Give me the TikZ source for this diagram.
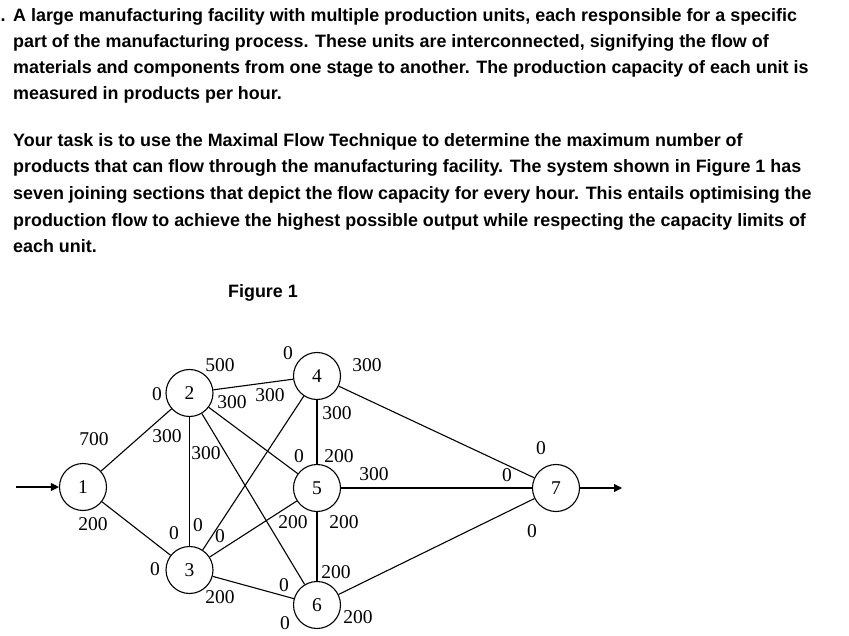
\documentclass[tikz,border=0pt]{standalone}
\usepackage{fontspec}
\setmainfont{Liberation Serif}
\newfontfamily\headfont{Liberation Sans}
\usetikzlibrary{arrows.meta,positioning}

\begin{document}
\begin{tikzpicture}[x=1pt, y=-1pt,
    unit/.style={draw, circle, line width=1.1pt, minimum size=47pt, inner sep=0pt,
                 font=\fontsize{19.5}{19.5}\selectfont},
    link/.style={line width=1.1pt},
    flow/.style={line width=1.1pt, -{Triangle[length=8pt, width=8pt]}},
    capnum/.style={inner sep=0pt, font=\fontsize{19.5}{19.5}\selectfont},
    para/.style={anchor=base west, inner sep=0pt, font=\headfont\bfseries\fontsize{17.9}{20}\selectfont}
]
\path[use as bounding box] (0,0) rectangle (849,636);

% --- task text ---
\node[para] (dot) at (0.5,22) {.};
\node[para] (p1a) at (13,22)    {A large manufacturing facility with multiple production units, each responsible for a specific};
\node[para] (p1b) at (13,48)    {part of the manufacturing process. These units are interconnected, signifying the flow of};
\node[para] (p1c) at (13,74)    {materials and components from one stage to another. The production capacity of each unit is};
\node[para] (p1d) at (13,99.5)  {measured in products per hour.};

\node[para] (p2a) at (13,147)   {Your task is to use the Maximal Flow Technique to determine the maximum number of};
\node[para] (p2b) at (13,173)   {products that can flow through the manufacturing facility. The system shown in Figure 1 has};
\node[para] (p2c) at (13,200)   {seven joining sections that depict the flow capacity for every hour. This entails optimising the};
\node[para] (p2d) at (13,226.5) {production flow to achieve the highest possible output while respecting the capacity limits of};
\node[para] (p2e) at (13,253)   {each unit.};

\node[para] (fig) at (228,298)  {Figure 1};

% --- units ---
\node[unit] (n1) at (83,487)    {1};
\node[unit] (n2) at (189.5,393) {2};
\node[unit] (n3) at (189.5,570) {3};
\node[unit] (n4) at (317,376)   {4};
\node[unit] (n5) at (317,488)   {5};
\node[unit] (n6) at (317,605)   {6};
\node[unit] (n7) at (556,488)   {7};

\coordinate (src) at (16,487);
\coordinate (snk) at (622,488);

% --- links ---
\draw[flow] (src) -- (n1);
\draw[flow] (n7) -- (snk);
\draw[link] (n1) -- (n2);
\draw[link] (n1) -- (n3);
\draw[link] (n2) -- (n4);
\draw[link] (n2) -- (n3);
\draw[link] (n2) -- (n5);
\draw[link] (n2) -- (n6);
\draw[link] (n3) -- (n4);
\draw[link] (n3) -- (n5);
\draw[link] (n3) -- (n6);
\draw[link] (n4) -- (n5);
\draw[link] (n5) -- (n6);
\draw[link] (n4) -- (n7);
\draw[link] (n5) -- (n7);
\draw[link] (n6) -- (n7);

% --- capacities ---
\node[capnum] (c12) at (94,439)  {700};
\node[capnum] (c21) at (157,394) {0};
\node[capnum] (c13) at (93,524)  {200};
\node[capnum] (c31) at (155,569) {0};
\node[capnum] (c24) at (220,365) {500};
\node[capnum] (c42) at (288,353) {0};
\node[capnum] (c25) at (232,402) {300};
\node[capnum] (c52) at (299,456) {0};
\node[capnum] (c43) at (270,395) {300};
\node[capnum] (c34) at (198,525) {0};
\node[capnum] (c35) at (220,536) {0};
\node[capnum] (c32) at (174,533) {0};
\node[capnum] (c23) at (167,436) {300};
\node[capnum] (c26) at (206,453) {300};
\node[capnum] (c53) at (293,522) {200};
\node[capnum] (c36) at (220,597) {200};
\node[capnum] (c62) at (284,585) {0};
\node[capnum] (c63) at (285,623) {0};
\node[capnum] (c45) at (337,413) {300};
\node[capnum] (c54) at (339,456) {200};
\node[capnum] (c47) at (367,365) {300};
\node[capnum] (c74) at (541,448) {0};
\node[capnum] (c57) at (374,474) {300};
\node[capnum] (c75) at (507,475) {0};
\node[capnum] (c56) at (344,522) {200};
\node[capnum] (c65) at (336,572) {200};
\node[capnum] (c67) at (358,617) {200};
\node[capnum] (c76) at (532,531) {0};

\end{tikzpicture}
\end{document}
